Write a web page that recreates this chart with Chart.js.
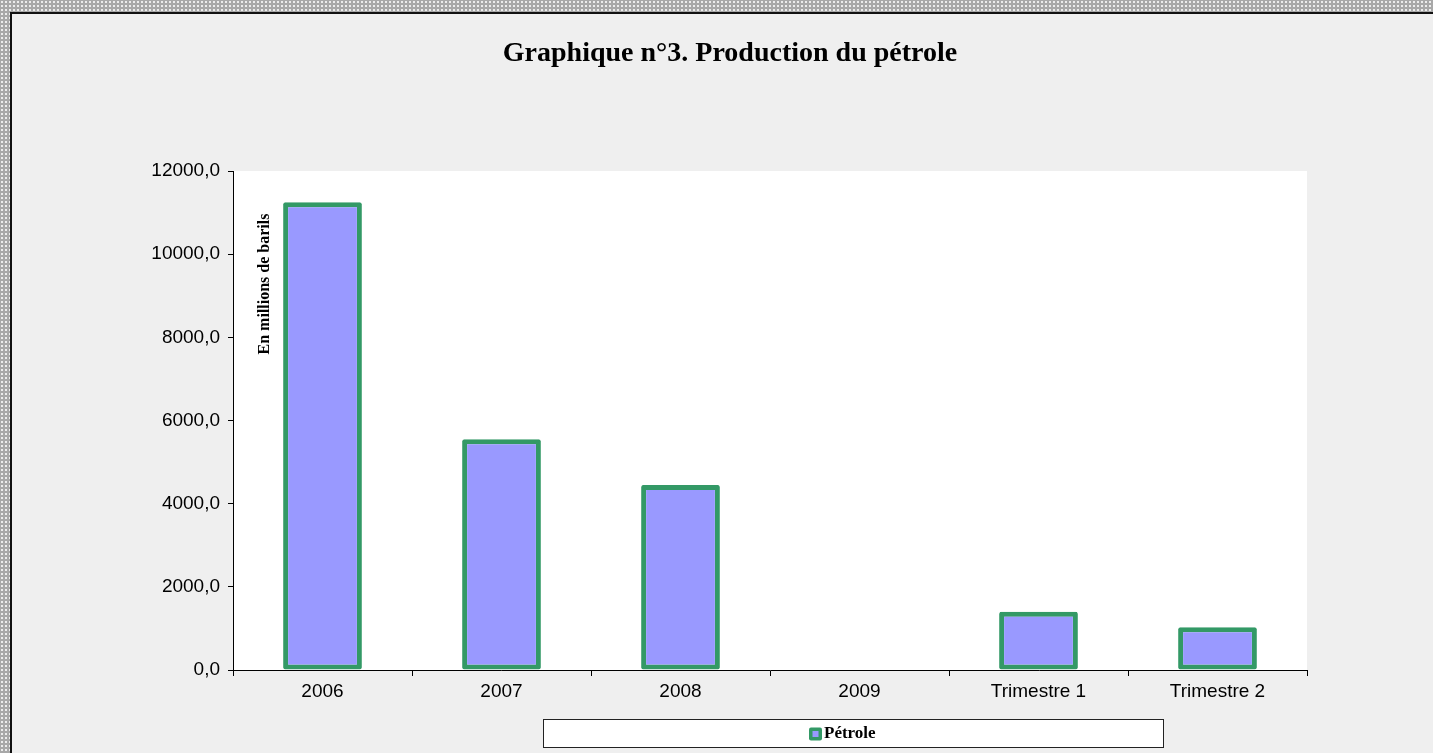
<!DOCTYPE html>
<html>
<head>
<meta charset="utf-8">
<script src="https://cdn.jsdelivr.net/npm/chart.js@4.4.1/dist/chart.umd.min.js"></script>
<style>
    html, body { margin: 0; padding: 0; }
    body { width: 1433px; height: 753px; overflow: hidden; position: relative;
        background-color: #a8a8a8;
        background-image: radial-gradient(circle, #ececec 0.8px, transparent 1.2px);
        background-size: 4px 4px; }
    #frame { position: absolute; left: 10px; top: 12px; right: 0; bottom: 0;
        border-left: 2px solid #111; border-top: 2px solid #111; background: #efefef; }
    #wrap { position: absolute; left: 0; top: 0; width: 1433px; height: 753px; }
</style>
</head>
<body>
<div id="frame"></div>
<div id="wrap"><canvas id="chart" width="1433" height="753"></canvas></div>
<script>
const categories = ['2006', '2007', '2008', '2009', 'Trimestre 1', 'Trimestre 2'];
const petrole = [11250, 5550, 4450, null, 1400, 1030];
const seriesLabel = 'Pétrole';
const chartTitle = 'Graphique n°3. Production du pétrole';
const yTitle = 'En millions de barils';

const fillColor = '#9999ff';
const edgeColor = '#339966';

// white plot area
const plotBg = {
    id: 'plotBg',
    beforeDraw(chart) {
        const {ctx, chartArea: a} = chart;
        ctx.save();
        ctx.fillStyle = '#ffffff';
        ctx.fillRect(a.left, a.top, a.right - a.left, a.bottom - a.top);
        ctx.restore();
    }
};

// title, rotated axis title inside the plot, boxed legend under the axis
const extras = {
    id: 'extras',
    afterDraw(chart) {
        const {ctx, chartArea: a} = chart;
        ctx.save();
        ctx.font = 'bold 28px "Liberation Serif"';
        ctx.fillStyle = '#000';
        ctx.textAlign = 'center';
        ctx.textBaseline = 'middle';
        ctx.fillText(chartTitle, (a.left + a.right) / 2 - 40, 54);
        ctx.restore();

        ctx.save();
        ctx.translate(a.left + 32, a.top + 113);
        ctx.rotate(-Math.PI / 2);
        ctx.font = 'bold 16px "Liberation Serif"';
        ctx.fillStyle = '#000';
        ctx.textAlign = 'center';
        ctx.textBaseline = 'middle';
        ctx.fillText(yTitle, 0, 0);
        ctx.restore();

        const bx = a.left + 310, bw = 620, by = a.bottom + 49, bh = 28;
        ctx.save();
        ctx.fillStyle = '#fff';
        ctx.fillRect(bx, by, bw, bh);
        ctx.strokeStyle = '#222';
        ctx.lineWidth = 1;
        ctx.strokeRect(bx + 0.5, by + 0.5, bw, bh);
        ctx.font = 'bold 17px "Liberation Serif"';
        const sw = 13;
        const x = bx + bw / 2 - 44;
        const cy = by + bh / 2 + 1;
        ctx.fillStyle = edgeColor;
        ctx.beginPath();
        ctx.roundRect(x, cy - sw / 2, sw, sw, 2);
        ctx.fill();
        ctx.fillStyle = fillColor;
        ctx.fillRect(x + 3.5, cy - sw / 2 + 3.5, sw - 7, sw - 7);
        ctx.fillStyle = '#000';
        ctx.textAlign = 'left';
        ctx.textBaseline = 'middle';
        ctx.fillText(seriesLabel, x + sw + 2, cy);
        ctx.restore();
    }
};

new Chart(document.getElementById('chart').getContext('2d'), {
    type: 'bar',
    data: {
        labels: categories,
        datasets: [{
            label: seriesLabel,
            data: petrole,
            backgroundColor: fillColor,
            borderColor: edgeColor,
            borderWidth: 5,
            borderRadius: 2,
            borderSkipped: false,
            categoryPercentage: 1,
            barPercentage: 0.44,
        }]
    },
    options: {
        responsive: false,
        animation: false,
        layout: { padding: { left: 28, right: 126, top: 171, bottom: 0 } },
        plugins: {
            legend: { display: false },
            tooltip: { enabled: false },
            title: { display: false },
        },
        scales: {
            y: {
                min: 0,
                max: 12000,
                afterFit(scale) { scale.width = 205; },
                ticks: {
                    stepSize: 2000,
                    color: '#000',
                    padding: 8,
                    font: { family: '"Liberation Sans"', size: 19 },
                    callback: (v) => v.toFixed(1).replace('.', ','),
                },
                grid: { drawOnChartArea: false, tickLength: 5, tickColor: '#000' },
                border: { color: '#000', width: 1 },
            },
            x: {
                afterFit(scale) { scale.height = 83; },
                ticks: {
                    color: '#000',
                    padding: 4,
                    font: { family: '"Liberation Sans"', size: 19 },
                },
                grid: { offset: true, drawOnChartArea: false, tickLength: 6, tickColor: '#000' },
                border: { color: '#000', width: 1 },
            }
        }
    },
    plugins: [plotBg, extras]
});
</script>
</body>
</html>
